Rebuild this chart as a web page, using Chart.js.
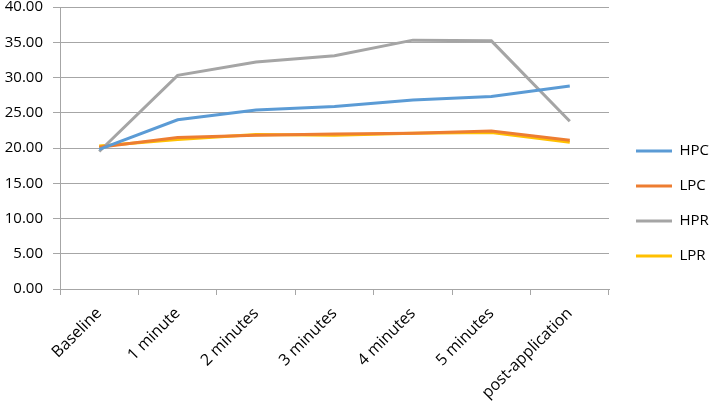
<!DOCTYPE html>
<html>
<head>
<meta charset="utf-8">
<script src="https://cdn.jsdelivr.net/npm/chart.js@4"></script>
<style>
  html, body { margin: 0; padding: 0; background: #fff; }
  #wrap { width: 709px; height: 402px; }
</style>
</head>
<body>
<div id="wrap"><canvas id="chart" width="709" height="402"></canvas></div>
<script>
const categories = ['Baseline', '1 minute', '2 minutes', '3 minutes', '4 minutes', '5 minutes', 'post-application'];
const hpc = [19.8, 24.0, 25.4, 25.9, 26.8, 27.3, 28.8];
const lpc = [20.1, 21.5, 21.8, 22.0, 22.1, 22.4, 21.1];
const hpr = [19.5, 30.3, 32.2, 33.1, 35.3, 35.2, 23.8];
const lpr = [20.3, 21.2, 21.9, 21.8, 22.1, 22.2, 20.8];

const gridGray = '#a6a6a6';
const font = { family: 'Open Sans', size: 15 };

function series(label, data, color) {
    return {
        label: label,
        data: data,
        borderColor: color,
        backgroundColor: color,
        borderWidth: 3,
        pointRadius: 0,
        tension: 0,
        fill: false
    };
}

// fix plot area edges to the reference layout
const layoutFix = {
    id: 'layoutFix',
    beforeInit(chart) {
        const orig = chart.legend.fit;
        chart.legend.fit = function() {
            orig.call(this);
            this.width = 100;
        };
    },
    afterLayout(chart) {
        chart.legend.left += 7;
        chart.legend.top -= 2;
    }
};

const ctx = document.getElementById('chart').getContext('2d');
new Chart(ctx, {
    type: 'line',
    data: {
        labels: categories,
        datasets: [
            series('HPC', hpc, '#5b9bd5'),
            series('LPC', lpc, '#ed7d31'),
            series('HPR', hpr, '#a5a5a5'),
            series('LPR', lpr, '#ffc000')
        ]
    },
    options: {
        responsive: false,
        animation: false,
        layout: { padding: { top: 7, left: 0, right: 0, bottom: 0 } },
        scales: {
            x: {
                offset: true,
                grid: { offset: true, drawOnChartArea: false, color: gridGray, tickLength: 6 },
                border: { color: gridGray },
                ticks: { color: '#000', font: { family: 'Open Sans', size: 16 }, minRotation: 45, maxRotation: 45, padding: 9 },
                afterFit(axis) { axis.height = 113; axis.paddingLeft = 0; axis.paddingRight = 0; }
            },
            y: {
                min: 0,
                max: 40,
                grid: { color: gridGray, tickLength: 7 },
                border: { color: gridGray },
                ticks: {
                    stepSize: 5,
                    color: '#000',
                    font: font,
                    padding: 10,
                    callback: v => v.toFixed(2)
                },
                afterFit(axis) { axis.width = 60; axis.paddingTop = 0; axis.paddingBottom = 0; }
            }
        },
        plugins: {
            legend: {
                position: 'right',
                labels: {
                    color: '#000',
                    font: font,
                    usePointStyle: true,
                    pointStyle: 'line',
                    pointStyleWidth: 36,
                    padding: 20
                }
            },
            tooltip: { enabled: false }
        }
    },
    plugins: [layoutFix]
});
</script>
</body>
</html>
